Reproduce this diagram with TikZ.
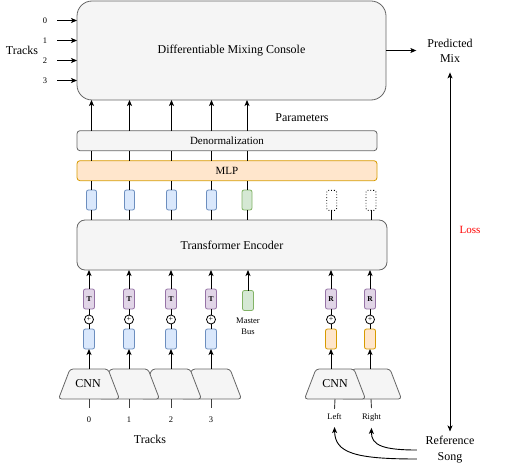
\documentclass[tikz,border=0pt]{standalone}
\usepackage{fontspec}
\setmainfont{Liberation Serif}
\usetikzlibrary{arrows.meta,calc}
\definecolor{gfill}{HTML}{F5F5F5}
\definecolor{gline}{HTML}{666666}
\definecolor{ofill}{HTML}{FFE6CC}
\definecolor{oline}{HTML}{D79B00}
\definecolor{bfill}{HTML}{DAE8FC}
\definecolor{bline}{HTML}{6C8EBF}
\definecolor{grfill}{HTML}{D5E8D4}
\definecolor{grline}{HTML}{82B366}
\definecolor{pfill}{HTML}{E1D5E7}
\definecolor{pline}{HTML}{9673A6}
\definecolor{lossred}{HTML}{FF0000}
\begin{document}
\begin{tikzpicture}[x=1pt,y=-1pt,
  every node/.style={inner sep=0pt, outer sep=0pt},
  arr/.style={-{Stealth[length=6pt,width=5pt,inset=1.5pt]}, line width=0.9pt},
  arrboth/.style={{Stealth[length=6pt,width=5pt,inset=1.5pt]}-{Stealth[length=6pt,width=5pt,inset=1.5pt]}, line width=0.9pt},
  ln/.style={line width=0.9pt},
  graybox/.style={draw=gline, fill=gfill, line width=0.8pt},
  colbox/.style={minimum width=10pt, minimum height=20pt, rounded corners=2pt, line width=0.8pt},
  bluebox/.style={colbox, draw=bline, fill=bfill},
  greenbox/.style={colbox, draw=grline, fill=grfill},
  orangebox/.style={colbox, draw=oline, fill=ofill},
  purplebox/.style={colbox, draw=pline, fill=pfill, font=\fontsize{7.5}{9}\selectfont\bfseries},
  dotbox/.style={colbox, draw=black, dotted, line width=0.9pt},
  wide/.style={minimum width=11pt},
  circ/.style={draw=black, circle, minimum size=9pt, line width=0.8pt, fill=white, font=\fontsize{8}{8}\selectfont},
  f12/.style={font=\fontsize{12}{14.5}\selectfont},
  f11/.style={font=\fontsize{11}{13}\selectfont},
  f8/.style={font=\fontsize{8.5}{11.3}\selectfont},
]
\useasboundingbox (0,0) rectangle (505,465);

% Mixing console
\node[graybox, rounded corners=15pt, minimum width=309pt, minimum height=99pt, f12] (console) at (231.5,50.5) {Differentiable Mixing Console};

% Track inputs
\node[f12] (trk) at (22,50) {Tracks};
\foreach \i/\y in {0/20.5,1/40.5,2/60.5,3/80.5}{
  \node[f8] (ti\i) at (45,\y) {\i};
  \draw[arr, shorten <=10pt] (ti\i.east) -- (console.west |- ti\i);
}

% Output
\node[f12, align=center] (pred) at (450,51) {Predicted\\Mix};
\draw[arr, shorten >=11pt] (console.east) -- (pred.west |- console.east);

\node[f12] (params) at (302,118) {Parameters};

% Denormalization and MLP
\node[graybox, rounded corners=3pt, minimum width=300pt, minimum height=20pt, f11] (denorm) at (227,140.7) {Denormalization};
\node[draw=oline, fill=ofill, line width=0.8pt, rounded corners=3pt, minimum width=300pt, minimum height=20pt, f11] (mlp) at (227,170.7) {MLP};

% Top column boxes
\foreach \i/\x in {1/91.5,2/129.5,3/171.5,4/211.5}{
  \node[bluebox] (tb\i) at (\x,200) {};
}
\node[greenbox] (tb5) at (247,200) {};
\node[dotbox] (tb6) at (331.7,200.3) {};
\node[dotbox] (tb7) at (371,200.3) {};

% Transformer encoder
\node[graybox, rounded corners=8pt, minimum width=310pt, minimum height=50pt, f12] (trans) at (232,245) {Transformer Encoder};

\foreach \i in {1,...,5}{
  \draw[ln] (tb\i.north) -- (mlp.south -| tb\i);
  \draw[ln] (mlp.north -| tb\i) -- (denorm.south -| tb\i);
  \draw[arr] (denorm.north -| tb\i) -- (console.south -| tb\i);
}
\foreach \i in {1,...,7}{
  \draw[ln] (tb\i.south) -- (trans.north -| tb\i);
}

% Bottom track columns
\foreach \i/\x in {1/89,2/129,3/171,4/211}{
  \node[purplebox, wide] (T\i) at (\x,299) {T};
  \node[circ] (c\i) at (\x,319.5) {+};
  \node[bluebox, wide] (e\i) at (\x,339) {};
  \draw[ln] (T\i.south) -- (c\i.north);
  \draw[ln] (c\i.south) -- (e\i.north);
  \draw[arr] (T\i.north) -- (trans.south -| T\i);
}

% Master bus
\node[greenbox, wide] (mb) at (248,300.5) {};
\draw[arr] (mb.north) -- (trans.south -| mb);
\node[f8, align=center] (mbl) at (248,326.5) {Master\\Bus};

% Reference columns
\foreach \i/\x in {1/331,2/370}{
  \node[purplebox, wide] (R\i) at (\x,299) {R};
  \node[circ] (rc\i) at (\x,319.5) {+};
  \node[orangebox, wide] (re\i) at (\x,339) {};
  \draw[ln] (R\i.south) -- (rc\i.north);
  \draw[ln] (rc\i.south) -- (re\i.north);
  \draw[arr] (R\i.north) -- (trans.south -| R\i);
}

% Track CNN trapezoids (drawn right to left so the left one is on top)
\foreach \cx in {211,171,129,89}{
  \draw[graybox, rounded corners=3pt] (\cx-30.5,399) -- (\cx-19,369) -- (\cx+19,369) -- (\cx+30.5,399) -- cycle;
}
\node[f12] (cnn1) at (88,384) {CNN};
\foreach \i/\cx/\d in {1/89/0,2/129/1,3/171/2,4/211/3}{
  \coordinate (tt\i) at (\cx,369);
  \coordinate (tbm\i) at (\cx,399);
  \draw[arr] (tt\i) -- (e\i.south);
  \node[f8] (lb\i) at (\cx,420) {\d};
  \draw[ln, draw=black!75] (tbm\i) -- ([yshift=9pt]lb\i.north);
}
\node[f12] (trkb) at (150,439) {Tracks};

% Reference CNN trapezoids
\foreach \cx in {371,335}{
  \draw[graybox, rounded corners=3pt] (\cx-30.5,399) -- (\cx-19,369) -- (\cx+19,369) -- (\cx+30.5,399) -- cycle;
}
\node[f12] (cnn2) at (335,384) {CNN};
\coordinate (rt1) at (331,369);
\coordinate (rt2) at (370,369);
\draw[arr] (rt1) -- (re1.south);
\draw[arr] (rt2) -- (re2.south);
\node[f8] (llbl) at (334.5,417) {Left};
\node[f8] (rlbl) at (371.5,417) {Right};
\coordinate (rb1) at (335,399);
\coordinate (rb2) at (371,399);
\draw[ln, draw=black!75] (rb1) -- ([yshift=5pt]llbl.north);
\draw[ln, draw=black!75] (rb2) -- ([yshift=5pt]rlbl.north);

% Reference song
\node[font=\fontsize{12}{16}\selectfont, align=center] (ref) at (450,450) {Reference\\Song};
\coordinate (rsa) at ([xshift=-8.7pt]ref.west);
\coordinate (rsb) at ([xshift=-8.7pt,yshift=-9pt]ref.west);
\draw[arr] (rsa) .. controls (385,450) and (371,446) .. ([yshift=-7pt]rlbl.south);
\draw[arr] (rsb) .. controls (355,459) and (335,453) .. ([yshift=-7pt]llbl.south);

% Loss
\draw[arrboth, shorten <=10pt, shorten >=5pt] (pred.south) -- (ref.north);
\node[f11, text=lossred] (loss) at (470,230) {Loss};

\end{tikzpicture}
\end{document}
